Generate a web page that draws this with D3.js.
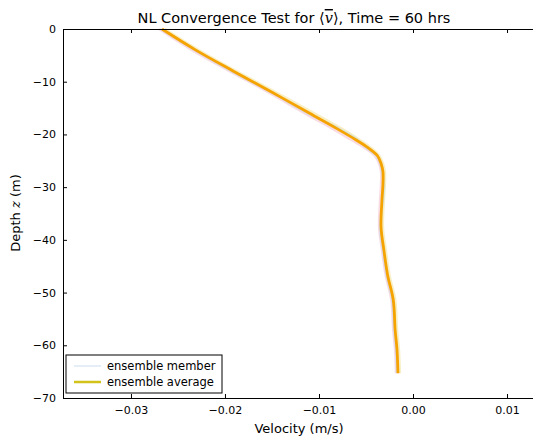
<!DOCTYPE html>
<html>
<head>
<meta charset="utf-8">
<script src="https://cdn.jsdelivr.net/npm/d3@7"></script>
<style>
  body { margin: 0; background: #fff; }
  text { font-family: "DejaVu Sans", sans-serif; fill: #000; }
</style>
</head>
<body>
<div id="chart"></div>
<script>
// depth levels (m) and ensemble-average velocity (m/s)
var depth = [0, -4, -8, -12, -16, -19, -21, -22.5, -24, -25.5, -27, -29.6, -32.4, -37.6, -41.9, -46.7, -51.4, -57.1, -60.9, -65.3];
var average = [-0.0267, -0.0231, -0.0191, -0.0150, -0.0110, -0.0080, -0.0061, -0.0048, -0.0038, -0.0034, -0.0032, -0.0032, -0.0033, -0.0034, -0.0031, -0.0027, -0.0021, -0.0019, -0.0017, -0.0016];

// a few faint ensemble members
var member1 = [-0.0270, -0.0235, -0.0195, -0.0154, -0.0115, -0.0085, -0.0066, -0.0052, -0.0041, -0.0036, -0.0034, -0.0034, -0.0035, -0.0036, -0.0033, -0.0029, -0.0023, -0.0021, -0.0019, -0.0018];
var member2 = [-0.0264, -0.0228, -0.0188, -0.0146, -0.0105, -0.0075, -0.0057, -0.0045, -0.0036, -0.0032, -0.0030, -0.0030, -0.0031, -0.0032, -0.0029, -0.0025, -0.0019, -0.0017, -0.0015, -0.0014];
var member3 = [-0.0268, -0.0232, -0.0193, -0.0151, -0.0112, -0.0078, -0.0059, -0.0050, -0.0039, -0.0035, -0.0033, -0.0031, -0.0032, -0.0035, -0.0032, -0.0028, -0.0022, -0.0020, -0.0018, -0.0017];
var members = [member1, member2, member3];
var memberColors = ["#f4b8c8", "#f2e08a", "#b8dcef"];

var xTicks = [-0.03, -0.02, -0.01, 0.00, 0.01];
var yTicks = [0, -10, -20, -30, -40, -50, -60, -70];

var svgWidth = 533;
var svgHeight = 440;
var margin = { top: 29, left: 63 };
var plotRight = 545;
var plotBottom = 398;

var svg = d3.select("#chart")
  .append("svg")
  .attr("width", svgWidth)
  .attr("height", svgHeight);

// scales
var xScale = d3.scaleLinear()
  .domain([-0.03723, 0.01404])
  .range([margin.left, plotRight]);

var yScale = d3.scaleLinear()
  .domain([0, -70])
  .range([margin.top, plotBottom]);

var line = d3.line()
  .x(d => xScale(d[0]))
  .y(d => yScale(d[1]))
  .curve(d3.curveCatmullRom);

// ensemble members
members.forEach(function(m, i) {
  svg.append("path")
    .datum(m.map((v, j) => [v, depth[j]]))
    .attr("d", line)
    .attr("fill", "none")
    .attr("stroke", memberColors[i])
    .attr("stroke-width", 2.5)
    .attr("opacity", 0.5);
});

// ensemble average
svg.append("path")
  .datum(average.map((v, j) => [v, depth[j]]))
  .attr("d", line)
  .attr("fill", "none")
  .attr("stroke", "#f5a300")
  .attr("stroke-width", 2.8);

// axes (ticks inside, classic matplotlib look)
var bottomAxis = d3.axisBottom(xScale).tickValues(xTicks).tickSize(-4)
  .tickFormat(d3.format(".2f")).tickPadding(8);
var topAxis = d3.axisTop(xScale).tickValues(xTicks).tickSize(-4).tickFormat("");
var leftAxis = d3.axisLeft(yScale).tickValues(yTicks).tickSize(-4)
  .tickFormat(d => d3.format("d")(d)).tickPadding(7);

function styleAxis(g) {
  g.select(".domain").attr("stroke", "#000").attr("stroke-width", 1);
  g.selectAll(".tick line").attr("stroke", "#000");
  g.selectAll(".tick text").attr("font-size", 11).attr("fill", "#000")
    .attr("font-family", "DejaVu Sans, sans-serif");
}

svg.append("g")
  .attr("transform", `translate(0, ${plotBottom})`)
  .call(bottomAxis)
  .call(styleAxis);

svg.append("g")
  .attr("transform", `translate(0, ${margin.top})`)
  .call(topAxis)
  .call(styleAxis);

svg.append("g")
  .attr("transform", `translate(${margin.left}, 0)`)
  .call(leftAxis)
  .call(styleAxis);

// replace hyphen with proper minus
svg.selectAll(".tick text").text(function() {
  return d3.select(this).text().replace("-", "\u2212");
});

// title
var title = svg.append("text")
  .attr("x", 294)
  .attr("y", 23)
  .attr("text-anchor", "middle")
  .attr("font-size", 14.5);
title.append("tspan").text("NL Convergence Test for ");
title.append("tspan").attr("font-family", "DejaVu Serif, serif").text("\u27e8");
title.append("tspan").attr("font-family", "DejaVu Serif, serif")
  .attr("font-style", "italic").attr("text-decoration", "overline").text("v");
title.append("tspan").attr("font-family", "DejaVu Serif, serif").text("\u27e9");
title.append("tspan").text(", Time = 60 hrs");

// axis labels
svg.append("text")
  .attr("x", 299)
  .attr("y", 433)
  .attr("text-anchor", "middle")
  .attr("font-size", 13)
  .text("Velocity (m/s)");

var ylab = svg.append("text")
  .attr("transform", "translate(20, 213) rotate(-90)")
  .attr("text-anchor", "middle")
  .attr("font-size", 13);
ylab.append("tspan").text("Depth ");
ylab.append("tspan").attr("font-family", "DejaVu Serif, serif").attr("font-style", "italic").text("z");
ylab.append("tspan").text(" (m)");

// legend
var legend = svg.append("g");
legend.append("rect")
  .attr("x", 66).attr("y", 355)
  .attr("width", 156).attr("height", 38)
  .attr("fill", "#fff")
  .attr("stroke", "#000")
  .attr("stroke-width", 1);

var legendItems = [
  { label: "ensemble member", color: "#dde8f4", width: 1.5 },
  { label: "ensemble average", color: "#d2c21a", width: 2.5 }
];
legendItems.forEach(function(d, i) {
  var y = 366 + i * 16;
  legend.append("line")
    .attr("x1", 74).attr("x2", 101)
    .attr("y1", y).attr("y2", y)
    .attr("stroke", d.color)
    .attr("stroke-width", d.width);
  legend.append("text")
    .attr("x", 107).attr("y", y + 4)
    .attr("font-size", 11.5)
    .text(d.label);
});
</script>
</body>
</html>
